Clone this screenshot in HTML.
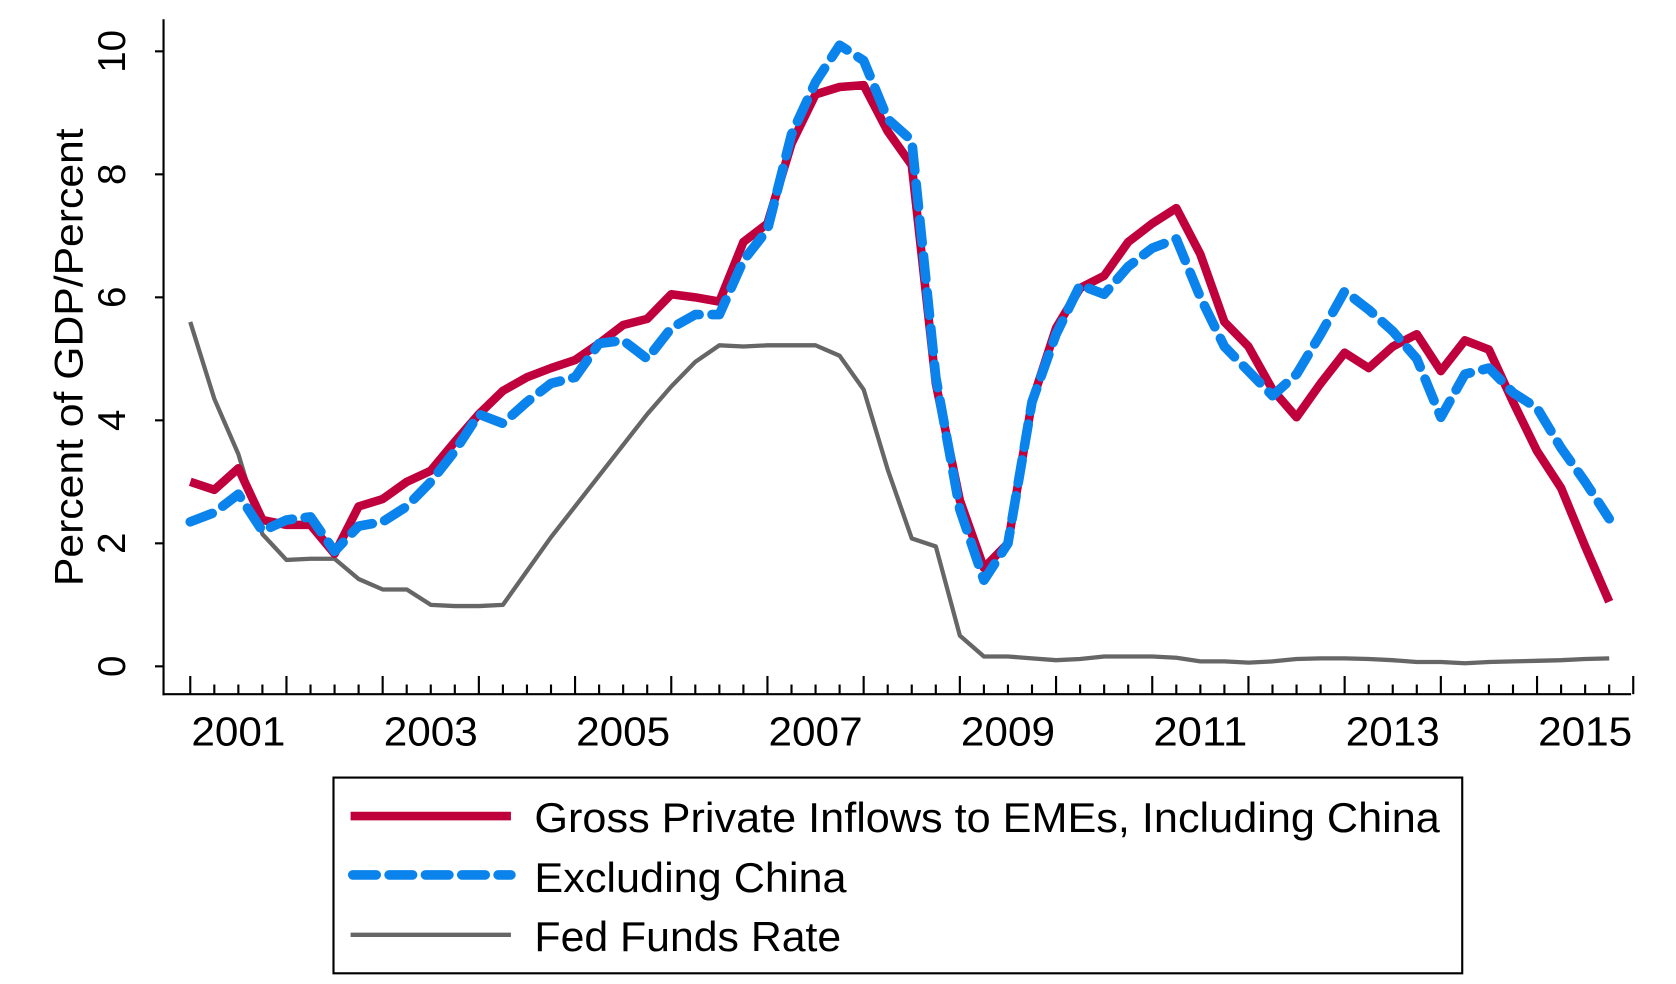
<!DOCTYPE html>
<html><head><meta charset="utf-8"><style>
html,body{margin:0;padding:0;background:#fff;}
svg{display:block;}
text{font-family:"Liberation Sans",Arial,sans-serif;fill:#000;}
</style></head><body>
<svg id="chart" width="1676" height="984" viewBox="0 0 1568 920" preserveAspectRatio="none" xmlns="http://www.w3.org/2000/svg">
<rect x="0" y="0" width="1568" height="920" fill="#fff"/>
<g id="axes"></g>
<g id="series"></g>
<g>
<rect x="312" y="727" width="1056" height="183" fill="none" stroke="#000" stroke-width="2"/>
<line x1="328" y1="763" x2="478" y2="763" stroke="#c0003c" stroke-width="8"/>
<text x="500" y="778" font-size="39" textLength="847" lengthAdjust="spacingAndGlyphs">Gross Private Inflows to EMEs, Including China</text>
<line x1="330" y1="818" x2="478" y2="818" stroke="#0a84ec" stroke-width="9" stroke-dasharray="22 12" stroke-linecap="round"/>
<text x="500" y="834" font-size="39" textLength="292" lengthAdjust="spacingAndGlyphs">Excluding China</text>
<line x1="328" y1="874" x2="478" y2="874" stroke="#666" stroke-width="4"/>
<text x="500" y="889" font-size="39" textLength="287" lengthAdjust="spacingAndGlyphs">Fed Funds Rate</text>
</g>
</svg>
<script>
const yearLabels = ["2001","2003","2005","2007","2009","2011","2013","2015"];
const yTicks = [0,2,4,6,8,10];
const inclChina = [3.0,2.87,3.22,2.38,2.3,2.3,1.83,2.6,2.72,3.0,3.18,3.65,4.1,4.48,4.7,4.85,4.98,5.25,5.55,5.65,6.05,6.0,5.93,6.9,7.2,8.5,9.3,9.42,9.45,8.7,8.15,4.6,2.7,1.6,2.0,4.3,5.5,6.15,6.35,6.9,7.2,7.45,6.7,5.6,5.2,4.5,4.05,4.6,5.1,4.85,5.2,5.4,4.8,5.3,5.15,4.3,3.5,2.9,1.95,1.05];
const exclChina = [2.35,2.5,2.8,2.2,2.38,2.43,1.87,2.28,2.35,2.6,3.0,3.5,4.1,3.95,4.3,4.6,4.7,5.25,5.3,5.0,5.5,5.72,5.72,6.6,7.1,8.65,9.5,10.1,9.85,8.9,8.55,4.7,2.55,1.4,2.0,4.3,5.4,6.2,6.05,6.5,6.8,6.95,6.0,5.2,4.8,4.4,4.75,5.4,6.1,5.8,5.45,5.0,4.05,4.75,4.85,4.45,4.2,3.55,3.0,2.4];
const fedFunds = [5.6,4.35,3.45,2.15,1.73,1.75,1.75,1.42,1.25,1.25,1.0,0.98,0.98,1.0,1.55,2.1,2.6,3.1,3.6,4.1,4.55,4.95,5.22,5.2,5.22,5.22,5.22,5.05,4.5,3.2,2.08,1.95,0.5,0.16,0.16,0.13,0.1,0.12,0.16,0.16,0.16,0.14,0.08,0.08,0.06,0.08,0.12,0.13,0.13,0.12,0.1,0.07,0.07,0.05,0.07,0.08,0.09,0.1,0.12,0.13];

const NS="http://www.w3.org/2000/svg";
const x = i => 178 + 22.5*i;
const y = v => 623 - 57.5*v;
function mk(tag, attrs, parent){const e=document.createElementNS(NS,tag);for(const k in attrs)e.setAttribute(k,attrs[k]);parent.appendChild(e);return e;}
const axes=document.getElementById('axes');
const yAxis=mk('line',{x1:153,y1:18,x2:153,y2:650,stroke:'#000','stroke-width':2},axes);


const xAxis=mk('line',{x1:152,y1:649,x2:1526,y2:649,stroke:'#000','stroke-width':2},axes);


yTicks.forEach(v=>{
  const t=mk('line',{x1:145,y1:y(v),x2:153,y2:y(v),stroke:'#000','stroke-width':2},axes);
  
  
  const l=mk('text',{x:0,y:0,'font-size':36,'text-anchor':'middle',transform:`translate(117,${y(v)}) rotate(-90)`},axes);
  l.textContent=String(v);
  
  
});
const yt=mk('text',{x:0,y:0,'font-size':37,'text-anchor':'middle',textLength:428,lengthAdjust:'spacingAndGlyphs',transform:'translate(77,334) rotate(-90)'},axes);
yt.textContent='Percent of GDP/Percent';


for(let i=0;i<=60;i++){
  const major=i%4===0;
  const t=mk('line',{x1:x(i),y1:649,x2:x(i),y2:major?632:640,stroke:'#000','stroke-width':2},axes);
  
  
}
yearLabels.forEach((s,k)=>{
  const l=mk('text',{x:x(2+8*k),y:697,'font-size':38,'text-anchor':'middle',textLength:88,lengthAdjust:'spacingAndGlyphs'},axes);
  l.textContent=s;
  
  
});
const ser=document.getElementById('series');
function pts(a){return a.map((v,i)=>x(i)+','+y(v)).join(' ');}
const g=mk('polyline',{points:pts(fedFunds),fill:'none',stroke:'#666','stroke-width':4,'stroke-linejoin':'round'},ser);


const r=mk('polyline',{points:pts(inclChina),fill:'none',stroke:'#c0003c','stroke-width':8,'stroke-linejoin':'round'},ser);


const b=mk('polyline',{points:pts(exclChina),fill:'none',stroke:'#0a84ec','stroke-width':9,'stroke-dasharray':'22 12','stroke-linecap':'round','stroke-linejoin':'round'},ser);


</script>
</body></html>
